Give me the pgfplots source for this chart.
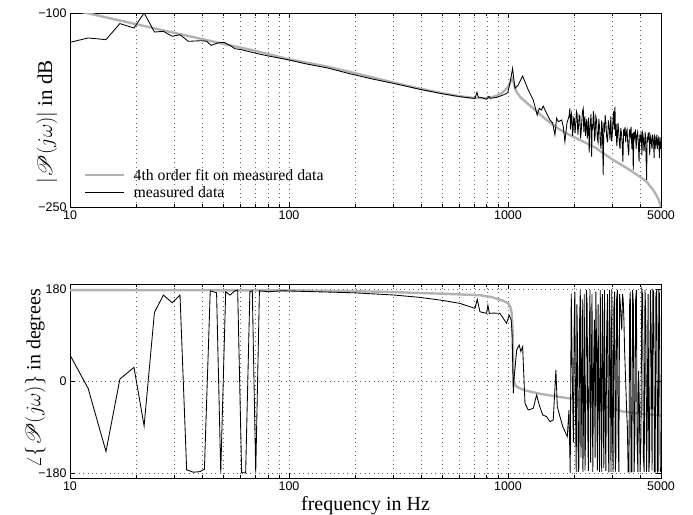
\documentclass[border=0pt]{standalone}
\usepackage{pgfplots}
\pgfplotsset{compat=1.18}
\usepackage{fontspec}
\usepackage{mathrsfs}
\setmainfont{Liberation Serif}
\newfontfamily\ticksf{Liberation Sans}
\definecolor{fitgray}{RGB}{178,178,178}
\begin{document}
\begin{tikzpicture}
\begin{axis}[at={(0,0)}, anchor=south west,
  xmode=log, scale only axis, width=591bp, height=194bp,
  xmin=10, xmax=5000,
  xtick={10,100,1000,5000}, xticklabels={10,100,1000,5000},
  minor xtick={20,30,40,50,60,70,80,90,200,300,400,500,600,700,800,900,2000,3000,4000},
  xmajorgrids, xminorgrids,
  major grid style={black!60, line width=0.4bp, dash pattern=on 0.8bp off 3.6bp},
  minor grid style={black!60, line width=0.4bp, dash pattern=on 0.8bp off 3.6bp},
  tick align=inside, major tick length=5bp, minor tick length=3bp,
  every tick/.style={black, line width=0.5bp},
  axis line style={line width=0.9bp},
  tick label style={font=\fontsize{12.5bp}{14bp}\selectfont\ticksf},
  label style={font=\fontsize{20bp}{23bp}\selectfont},
  ymin=-250, ymax=-100, ytick={-250,-100}, yticklabels={−250,−100},
  ylabel={$|\mathscr{P}(j\omega)|$ in dB},
  ylabel style={at={(axis description cs:-0.039,0.44)}, anchor=center, font=\fontsize{21bp}{24bp}\selectfont},
  legend cell align=left,
  legend image post style={xscale=2.3},
  legend style={draw=none, fill=none, at={(axis description cs:0.0218,0.025)}, anchor=south west,
    font=\fontsize{15.8bp}{17bp}\selectfont, row sep=1bp, column sep=6bp, inner sep=1bp},
]
\addplot[fitgray, line width=2.4bp] coordinates {
(10,-97.1)(20,-108.6)(30,-115.4)(50,-123.8)(70,-129.2)(100,-135.8)(150,-141.5)(200,-146.5)
(300,-153.8)(400,-158.6)(500,-162)(600,-164.3)(700,-165.7)(800,-165.8)(870,-164.5)(930,-162.3)
(970,-159.7)(1000,-157.2)(1020,-154.5)(1035,-151.5)(1045,-150.5)(1055,-152)(1070,-156)(1090,-160.5)
(1134,-164.7)(1200,-168.5)(1300,-173.5)(1400,-178.3)(1502,-182.7)(1700,-189.5)(1900,-194)(2132,-198.2)
(2500,-204)(3026,-213.7)(3500,-220)(4005,-226.6)(4300,-230.5)(4608,-236.9)(4750,-240.5)(4880,-244.5)(5000,-250)
};
\addlegendentry{4th order fit on measured data}
\addplot[black, line width=0.85bp] coordinates {
(10,-122.7)(12.1,-119.3)(14.6,-120.6)(16.9,-108.2)(19.6,-111.6)(21.8,-100)(24.3,-114.7)(26.7,-114.2)
(29.3,-118)(31.8,-116.8)(34.7,-121.9)(39.9,-121.4)(42.1,-121.9)(44.1,-125)(47.6,-123)(50.6,-122.7)
(54.7,-125.8)(56.6,-127.6)(60.8,-128.4)(70,-131)(77.7,-132.7)(100,-136.3)(118.6,-139.2)(150,-142.5)
(190,-147)(240,-151)(300,-154.4)(396,-159)(507,-162.6)(604,-164.7)(700,-166)(707,-166)(722,-161.3)
(732,-165)(760,-165.5)(799,-166.7)(820,-164.5)(830,-166)(888,-165.2)(920,-164.3)(952,-163.4)(986,-162.1)
(1000,-161)(1021,-154.4)(1050,-142.8)(1076,-158.2)(1114,-155.7)(1167,-148.7)(1238,-159.5)(1305,-167.3)
(1360,-178.9)(1390,-173.7)(1420,-175)(1450,-172)(1502,-177.6)(1555,-182.7)(1600,-185)(1639,-194.3)
(1667,-181.4)(1700,-184)(1759,-182.7)(1790,-188)(1820,-199.5)(1860,-185)(1900,-180)
(1919,-173.7)(1930,-190)(1940,-185)(1950,-178)(1960,-180)(1972,-195)(1985,-190)(1997,-181)(2010,-182)
(2025,-193)(2040,-186)(2055,-176)(2070,-178)(2085,-194)(2100,-188)(2115,-179)(2130,-180)(2145,-197)
(2160,-192)(2175,-183)(2190,-176)(2208,-173.7)(2220,-192)(2230,-185)(2245,-180)(2260,-195)(2275,-186)
(2290,-182)(2305,-197)(2320,-190)(2335,-181)(2350,-208)(2365,-190)(2380,-185)(2395,-178)(2410,-211)
(2425,-186)(2440,-190)(2455,-176)(2470,-180)(2485,-199)(2500,-195)(2520,-180)(2540,-183)(2560,-197)
(2580,-200)(2600,-182)(2620,-188)(2640,-199)(2660,-205)(2680,-183)(2700,-190)(2723,-225.3)(2740,-185)
(2760,-192)(2780,-179)(2800,-185)(2825,-196)(2850,-200)(2875,-183)(2900,-188)(2925,-198)(2950,-180)
(2975,-199)(3000,-192)(3020,-182)(3040,-176)(3060,-190)(3081,-172.4)(3100,-195)(3120,-186)(3140,-203)
(3160,-196)(3180,-185)(3200,-190)(3225,-200)(3250,-205)(3275,-189)(3300,-193)(3325,-201)(3350,-215)
(3375,-190)(3400,-195)(3425,-188)(3450,-200)(3475,-192)(3500,-190)(3530,-203)(3560,-210)(3590,-190)
(3620,-195)(3650,-188)(3680,-205)(3710,-193)(3735,-221.4)(3760,-192)(3790,-196)(3820,-190)(3850,-205)
(3880,-195)(3910,-192)(3940,-200)(3970,-215)(4000,-194)(4030,-198)(4060,-192)(4090,-210)(4120,-193)
(4150,-196)(4180,-207)(4210,-200)(4235,-192)(4260,-203)(4299,-229.1)(4320,-196)(4340,-200)(4365,-193)
(4390,-198)(4415,-192)(4440,-210)(4465,-197)(4490,-195)(4520,-201)(4550,-205)(4575,-194)(4600,-197)
(4625,-200)(4650,-212)(4675,-195)(4700,-196)(4730,-203)(4760,-200)(4785,-194)(4810,-205)(4835,-199)
(4860,-197)(4890,-202)(4920,-212)(4940,-196)(4960,-198)(4980,-205)(5000,-203)
};
\addlegendentry{measured data}
\end{axis}

\begin{axis}[at={(0,-271bp)}, anchor=south west,
  xmode=log, scale only axis, width=591bp, height=194bp,
  xmin=10, xmax=5000,
  xtick={10,100,1000,5000}, xticklabels={10,100,1000,5000},
  minor xtick={20,30,40,50,60,70,80,90,200,300,400,500,600,700,800,900,2000,3000,4000},
  xmajorgrids, xminorgrids, ymajorgrids,
  major grid style={black!60, line width=0.4bp, dash pattern=on 0.8bp off 3.6bp},
  minor grid style={black!60, line width=0.4bp, dash pattern=on 0.8bp off 3.6bp},
  tick align=inside, major tick length=5bp, minor tick length=3bp,
  every tick/.style={black, line width=0.5bp},
  axis line style={line width=0.9bp},
  tick label style={font=\fontsize{12.5bp}{14bp}\selectfont\ticksf},
  label style={font=\fontsize{20bp}{23bp}\selectfont},
  ymin=-190, ymax=190, ytick={-180,0,180}, yticklabels={−180,0,180},
  ylabel={$\angle\{\mathscr{P}(j\omega)\}$ in degrees},
  ylabel style={at={(axis description cs:-0.059,0.515)}, anchor=center},
  xlabel={frequency in Hz},
  xlabel style={at={(axis description cs:0.5,0)}, anchor=base, yshift=-32bp},
]
\addplot[fitgray, line width=2.4bp] coordinates {
(10,178)(100,177.5)(260,175)(500,171)(745,168)(850,164)(952,157)(1003,152)(1025,145)(1040,133)
(1050,100)(1058,30)(1065,0)(1075,-7)(1096,-11)(1175,-17.6)(1400,-25)(1700,-31)(2132,-37)(2700,-48)
(3362,-60)(4000,-64)(4608,-66)(5000,-68)
};
\addplot[black, line width=0.85bp] coordinates {
(10,50.9)(12.1,-14.4)(14.6,-138)(16.9,3.9)(19.6,26.7)(21.8,-88)(24.3,134.4)(26.7,168.3)(29.3,153.3)
(31.8,168.3)(34.1,-174)(36.6,-178.7)(39.2,-177.5)(41.1,-172.8)(43.7,176.7)(46.7,172.8)(48.8,-179.4)
(51.4,174.8)(53.8,168.3)(56.6,176.7)(58.3,178)(60.8,-179.4)(63.4,-180)(66.3,174.8)(68,177)(70.5,-179.4)
(73.3,176.7)(80.5,174.8)(92.6,176.7)(106.6,176)(197,172.8)(300,168.5)(396,163.8)(500,158)(604,152)
(707,142.3)(724,160)(745,135.6)(799,132.5)(810,148.7)(822,132.5)(860,133)(919,132.5)(952,122.7)
(986,112.9)(1012,129)(1035,119.4)(1045,90)(1058,-24)(1065,2)(1096,60.7)(1126,70.5)(1145,58)(1167,67.1)
(1196,-43.7)(1238,-56.8)(1305,-53.4)(1352,-27.4)(1390,-47)(1440,-66.5)(1502,-69.8)(1555,-79.6)
(1610,-76.3)(1656,21.5)(1680,-50)(1728,-69.8)(1780,-89.4)(1866,-109)(1900,-56.8)(1925,-180)
(1946,171.6)(1968,10)(1990,-120)(2005,100)(2020,175)(2035,-60)(2050,-178)(2065,150)(2080,60)(2095,-178)
(2110,-170)(2125,120)(2140,178)(2155,-150)(2170,-30)(2185,160)(2200,-178)(2215,-60)(2230,170)(2248,-175)
(2265,-90)(2282,178)(2300,150)(2315,-100)(2330,-176)(2350,80)(2370,178)(2385,-160)(2400,-20)(2420,170)
(2440,-178)(2460,20)(2480,120)(2500,-150)(2520,175)(2540,60)(2560,-175)(2580,150)(2600,-40)(2620,-178)
(2640,178)(2660,-20)(2680,-178)(2700,170)(2720,30)(2740,-170)(2760,178)(2780,-60)(2800,-176)(2825,100)
(2850,170)(2870,-120)(2890,-179)(2910,178)(2930,90)(2955,-178)(2980,178)(3000,-90)(3020,-178)(3045,140)
(3070,175)(3090,-178)(3110,-150)(3135,160)(3160,178)(3185,-100)(3210,-178)(3235,170)(3260,150)(3285,120)
(3310,100)(3335,170)(3360,160)(3385,120)(3410,60)(3435,20)(3460,-20)(3485,-60)(3510,-90)(3540,-178)
(3570,-178)(3595,150)(3620,175)(3650,-178)(3680,-178)(3710,178)(3740,150)(3770,-178)(3800,-100)(3830,160)
(3860,178)(3890,-120)(3920,-178)(3950,20)(3980,-40)(4015,-178)(4050,-110)(4085,178)(4120,170)(4155,-150)
(4190,-178)(4225,178)(4260,130)(4295,-178)(4330,-60)(4365,170)(4400,-178)(4435,-150)(4470,178)(4510,100)
(4550,-175)(4590,178)(4630,175)(4665,-178)(4700,-178)(4740,170)(4780,178)(4815,-178)(4850,-176)(4885,178)
(4920,170)(4960,-178)(5000,-170)
};
\end{axis}
\pgfresetboundingbox
\useasboundingbox (-70bp,-308bp) rectangle (623bp,207bp);
\end{tikzpicture}
\end{document}
